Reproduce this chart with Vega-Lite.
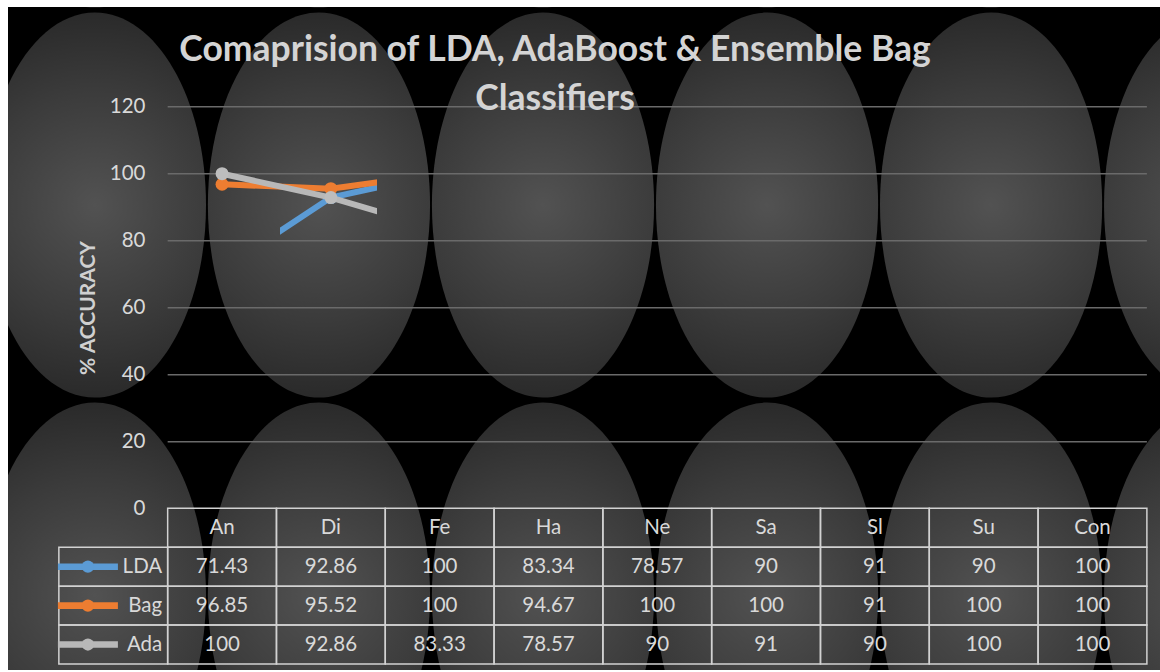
{
  "$schema": "https://vega.github.io/schema/vega-lite/v6.json",
  "width": 1152,
  "height": 663,
  "autosize": {"type": "none"},
  "padding": {"left": 8, "top": 7, "right": 0, "bottom": 2},
  "background": "#ffffff",
  "config": {"view": {"fill": "#000000", "stroke": null}, "font": "Lato"},
  "title": {
    "text": ["Comaprision  of LDA, AdaBoost & Ensemble Bag", "Classifiers"],
    "orient": "top",
    "anchor": "middle",
    "frame": "group",
    "offset": -138,
    "dx": -29,
    "baseline": "alphabetic",
    "lineHeight": 49,
    "font": "Lato",
    "fontSize": 35.5,
    "fontWeight": "bold",
    "color": "#d4d4d4"
  },
  "datasets": {
    "acc": [
      {"series": "LDA", "cat": "An", "acc": 71.43},
      {"series": "LDA", "cat": "Di", "acc": 92.86},
      {"series": "LDA", "cat": "Fe", "acc": 100},
      {"series": "LDA", "cat": "Ha", "acc": 83.34},
      {"series": "LDA", "cat": "Ne", "acc": 78.57},
      {"series": "LDA", "cat": "Sa", "acc": 90},
      {"series": "LDA", "cat": "Sl", "acc": 91},
      {"series": "LDA", "cat": "Su", "acc": 90},
      {"series": "LDA", "cat": "Con", "acc": 100},
      {"series": "Bag", "cat": "An", "acc": 96.85},
      {"series": "Bag", "cat": "Di", "acc": 95.52},
      {"series": "Bag", "cat": "Fe", "acc": 100},
      {"series": "Bag", "cat": "Ha", "acc": 94.67},
      {"series": "Bag", "cat": "Ne", "acc": 100},
      {"series": "Bag", "cat": "Sa", "acc": 100},
      {"series": "Bag", "cat": "Sl", "acc": 91},
      {"series": "Bag", "cat": "Su", "acc": 100},
      {"series": "Bag", "cat": "Con", "acc": 100},
      {"series": "Ada", "cat": "An", "acc": 100},
      {"series": "Ada", "cat": "Di", "acc": 92.86},
      {"series": "Ada", "cat": "Fe", "acc": 83.33},
      {"series": "Ada", "cat": "Ha", "acc": 78.57},
      {"series": "Ada", "cat": "Ne", "acc": 90},
      {"series": "Ada", "cat": "Sa", "acc": 91},
      {"series": "Ada", "cat": "Sl", "acc": 90},
      {"series": "Ada", "cat": "Su", "acc": 100},
      {"series": "Ada", "cat": "Con", "acc": 100}
    ],
    "grid": [{"tick": 20}, {"tick": 40}, {"tick": 60}, {"tick": 80}, {"tick": 100}, {"tick": 120}],
    "ell": [
      {"ecol": 0, "erow": -1}, {"ecol": 1, "erow": -1}, {"ecol": 2, "erow": -1}, {"ecol": 3, "erow": -1}, {"ecol": 4, "erow": -1}, {"ecol": 5, "erow": -1},
      {"ecol": 0, "erow": 0}, {"ecol": 1, "erow": 0}, {"ecol": 2, "erow": 0}, {"ecol": 3, "erow": 0}, {"ecol": 4, "erow": 0}, {"ecol": 5, "erow": 0},
      {"ecol": 0, "erow": 1}, {"ecol": 1, "erow": 1}, {"ecol": 2, "erow": 1}, {"ecol": 3, "erow": 1}, {"ecol": 4, "erow": 1}, {"ecol": 5, "erow": 1}
    ]
  },
  "layer": [
    {
      "data": {"name": "ell"},
      "mark": {
        "type": "point",
        "shape": "M0,-1C0.3187,-1,0.577,-0.5523,0.577,0C0.577,0.5523,0.3187,1,0,1C-0.3187,1,-0.577,0.5523,-0.577,0C-0.577,-0.5523,-0.3187,-1,0,-1Z",
        "size": 148225,
        "filled": true,
        "opacity": 1,
        "strokeWidth": 0,
        "clip": true,
        "fill": {
          "gradient": "radial",
          "x1": 0.5, "y1": 0.5, "x2": 0.5, "y2": 0.5, "r1": 0, "r2": 0.5,
          "stops": [
            {"offset": 0, "color": "#525252"},
            {"offset": 0.6, "color": "#3b3b3b"},
            {"offset": 1, "color": "#2a2a2a"}
          ]
        }
      },
      "encoding": {
        "x": {"field": "ecol", "type": "quantitative", "scale": {"domain": [-0.388, 4.754], "nice": false, "zero": false}, "axis": null},
        "y": {"field": "erow", "type": "quantitative", "scale": {"domain": [-0.508, 1.192], "nice": false, "zero": false, "reverse": true}, "axis": null}
      }
    },
    {
      "data": {"name": "acc"},
      "encoding": {
        "x": {"field": "cat", "type": "nominal", "scale": {"type": "band", "domain": ["leg", "An", "Di", "Fe", "Ha", "Ne", "Sa", "Sl", "Su", "Con"], "paddingInner": 0, "paddingOuter": 0.294, "align": 0.795}, "axis": null}
      },
      "layer": [
        {
          "data": {"name": "grid"},
          "mark": {"type": "rule", "color": "#6a6a6a", "strokeWidth": 1.5},
          "encoding": {
            "x": {"datum": "An", "type": "nominal", "bandPosition": 0},
            "x2": {"datum": "Con", "bandPosition": 1},
            "y": {
              "field": "tick", "type": "quantitative",
              "scale": {"domain": [-48.15, 149.76], "nice": false, "zero": false},
              "axis": {
                "orient": "left",
                "zindex": 1,
                "values": [0, 20, 40, 60, 80, 100, 120],
                "ticks": false, "domain": false, "grid": false,
                "labelPadding": 0, "offset": -137,
                "labelColor": "#d9d9d9", "labelFontSize": 20.5, "labelFont": "Lato",
                "title": "% ACCURACY", "titleColor": "#d0d0d0", "titleFontSize": 21, "titleFontWeight": "bold", "titleFont": "Lato",
                "titleX": -57, "titleY": 300.5, "titleAngle": -90, "titleBaseline": "middle", "titleAlign": "center"
              }
            }
          }
        },
        {
          "transform": [{"filter": "datum.series == 'LDA' && (datum.cat == 'An' || datum.cat == 'Di' || datum.cat == 'Fe')"}],
          "mark": {
            "type": "line", "strokeWidth": 6, "strokeCap": "butt",
            "stroke": {"gradient": "linear", "x1": 0, "y1": 0, "x2": 1, "y2": 0,
              "stops": [
                {"offset": 0, "color": "rgba(91,155,213,0)"},
                {"offset": 0.266, "color": "rgba(91,155,213,0)"},
                {"offset": 0.266, "color": "#5B9BD5"},
                {"offset": 0.71, "color": "#5B9BD5"},
                {"offset": 0.71, "color": "rgba(91,155,213,0)"},
                {"offset": 1, "color": "rgba(91,155,213,0)"}
              ]}
          },
          "encoding": {"y": {"field": "acc", "type": "quantitative"}}
        },
        {
          "transform": [{"filter": "datum.series == 'LDA' && datum.cat == 'Di'"}],
          "mark": {"type": "circle", "size": 169, "color": "#5B9BD5", "opacity": 1},
          "encoding": {"y": {"field": "acc", "type": "quantitative"}}
        },
        {
          "transform": [{"filter": "datum.series == 'Bag' && (datum.cat == 'An' || datum.cat == 'Di' || datum.cat == 'Fe')"}],
          "mark": {
            "type": "line", "strokeWidth": 6, "strokeCap": "butt",
            "stroke": {"gradient": "linear", "x1": 0, "y1": 0, "x2": 1, "y2": 0,
              "stops": [
                {"offset": 0, "color": "#ED7D31"},
                {"offset": 0.71, "color": "#ED7D31"},
                {"offset": 0.71, "color": "rgba(237,125,49,0)"},
                {"offset": 1, "color": "rgba(237,125,49,0)"}
              ]}
          },
          "encoding": {"y": {"field": "acc", "type": "quantitative"}}
        },
        {
          "transform": [{"filter": "datum.series == 'Bag' && (datum.cat == 'An' || datum.cat == 'Di')"}],
          "mark": {"type": "circle", "size": 169, "color": "#ED7D31", "opacity": 1},
          "encoding": {"y": {"field": "acc", "type": "quantitative"}}
        },
        {
          "transform": [{"filter": "datum.series == 'Ada' && (datum.cat == 'An' || datum.cat == 'Di' || datum.cat == 'Fe')"}],
          "mark": {
            "type": "line", "strokeWidth": 6, "strokeCap": "butt",
            "stroke": {"gradient": "linear", "x1": 0, "y1": 0, "x2": 1, "y2": 0,
              "stops": [
                {"offset": 0, "color": "#B8B8B8"},
                {"offset": 0.71, "color": "#B8B8B8"},
                {"offset": 0.71, "color": "rgba(184,184,184,0)"},
                {"offset": 1, "color": "rgba(184,184,184,0)"}
              ]}
          },
          "encoding": {"y": {"field": "acc", "type": "quantitative"}}
        },
        {
          "transform": [{"filter": "datum.series == 'Ada' && (datum.cat == 'An' || datum.cat == 'Di')"}],
          "mark": {"type": "circle", "size": 169, "color": "#BDBDBD", "opacity": 1},
          "encoding": {"y": {"field": "acc", "type": "quantitative"}}
        }
      ]
    },
    {
      "data": {"name": "acc"},
      "encoding": {
        "x": {"field": "cat", "type": "nominal", "scale": {"type": "band", "domain": ["leg", "An", "Di", "Fe", "Ha", "Ne", "Sa", "Sl", "Su", "Con"], "paddingInner": 0, "paddingOuter": 0.294, "align": 0.795}, "axis": null},
        "y": {"field": "series", "type": "nominal", "scale": {"type": "band", "domain": ["hdr", "LDA", "Bag", "Ada"], "range": [501.3, 657], "paddingInner": 0, "paddingOuter": 0}, "axis": null}
      },
      "layer": [
        {
          "mark": {"type": "rect", "filled": false, "stroke": "#d2d2d2", "strokeWidth": 1.5}
        },
        {
          "transform": [{"filter": "datum.series == 'LDA'"}],
          "mark": {"type": "rect", "filled": false, "stroke": "#d2d2d2", "strokeWidth": 1.5},
          "encoding": {"y": {"datum": "hdr", "type": "nominal"}}
        },
        {
          "transform": [{"filter": "datum.cat == 'An'"}],
          "mark": {"type": "rect", "filled": false, "stroke": "#d2d2d2", "strokeWidth": 1.5},
          "encoding": {"x": {"datum": "leg", "type": "nominal"}}
        },
        {
          "mark": {"type": "text", "fontSize": 20.5, "font": "Lato", "color": "#d9d9d9", "baseline": "middle", "align": "center"},
          "encoding": {"text": {"field": "acc", "type": "quantitative"}}
        },
        {
          "transform": [{"filter": "datum.series == 'LDA'"}],
          "mark": {"type": "text", "fontSize": 20.5, "font": "Lato", "color": "#d9d9d9", "baseline": "middle", "align": "center"},
          "encoding": {"y": {"datum": "hdr", "type": "nominal"}, "text": {"field": "cat", "type": "nominal"}}
        },
        {
          "transform": [{"filter": "datum.cat == 'An'"}],
          "mark": {
            "type": "point", "shape": "M-1,-0.11L1,-0.11L1,0.11L-1,0.11Z", "size": 3600, "filled": true, "opacity": 1, "strokeWidth": 0
          },
          "encoding": {
            "x": {"datum": "leg", "type": "nominal", "bandPosition": 0.267},
            "color": {"field": "series", "type": "nominal", "scale": {"domain": ["LDA", "Bag", "Ada"], "range": ["#5B9BD5", "#ED7D31", "#B8B8B8"]}, "legend": null}
          }
        },
        {
          "transform": [{"filter": "datum.cat == 'An'"}],
          "mark": {"type": "circle", "size": 150, "opacity": 1},
          "encoding": {
            "x": {"datum": "leg", "type": "nominal", "bandPosition": 0.267},
            "color": {"field": "series", "type": "nominal", "legend": null}
          }
        },
        {
          "transform": [{"filter": "datum.cat == 'An'"}],
          "mark": {"type": "text", "fontSize": 20.5, "font": "Lato", "color": "#d9d9d9", "baseline": "middle", "align": "right"},
          "encoding": {
            "x": {"datum": "leg", "type": "nominal", "bandPosition": 0.95},
            "text": {"field": "series", "type": "nominal"}
          }
        }
      ]
    }
  ],
  "resolve": {"scale": {"x": "independent", "y": "independent"}}
}
